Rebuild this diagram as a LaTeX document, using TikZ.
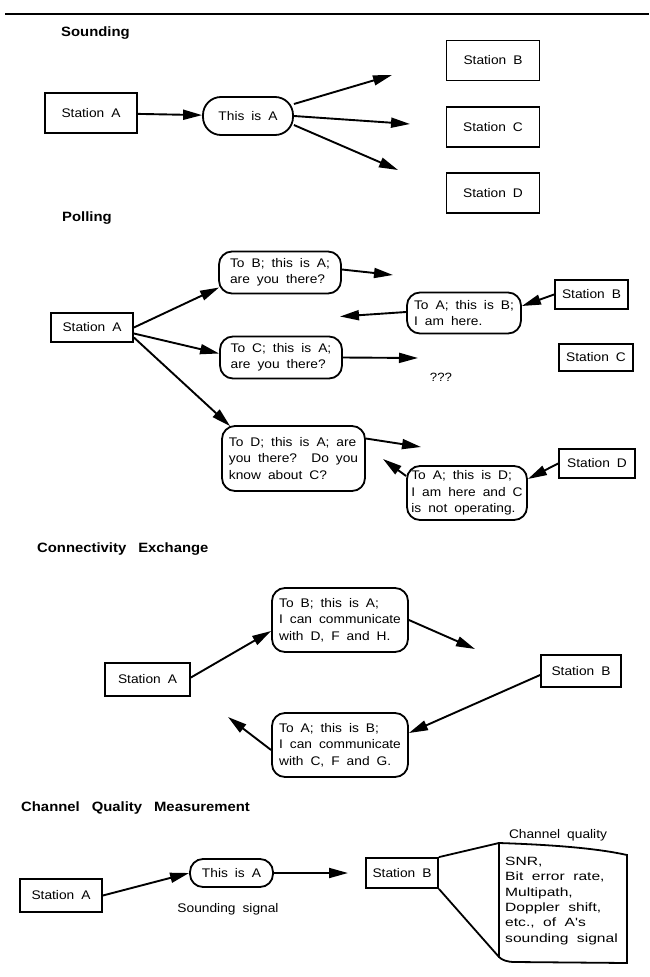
\documentclass[tikz,border=0pt]{standalone}
\usepackage{fontspec}
\setmainfont{Liberation Sans}[FakeStretch=1.1]
\newfontfamily\flagfamily{Liberation Sans}[FakeStretch=1.3]
\usetikzlibrary{arrows.meta}
\newcommand{\msgfont}{\fontsize{12.5}{16.5}\selectfont\spaceskip=7pt plus 1pt}
\newcommand{\hdfont}{\bfseries\fontsize{13.5}{16}\selectfont\spaceskip=12pt plus 2pt}
\newcommand{\flagfont}{\flagfamily\fontsize{12}{15.3}\selectfont\spaceskip=8.5pt plus 1pt}
\tikzset{
	station/.style={draw, line width=1.8pt, inner sep=0pt, font=\msgfont},
	msg/.style={draw, line width=1.8pt, inner sep=0pt, rounded corners=13pt, align=left, font=\msgfont},
	head/.style={anchor=west, inner sep=0pt, font=\hdfont},
	sig/.style={line width=1.9pt, -{Triangle[length=19pt,width=10pt]}},
}

\begin{document}
\begin{tikzpicture}[x=1pt,y=-1pt]
	\useasboundingbox (0,0) rectangle (649,977);
	\draw[line width=2.4pt] (5,14) -- (649,14);

	% Sounding
	\node[head] (h1) at (61,33) {Sounding};
	\node[station, minimum width=92pt, minimum height=40pt] (sa) at (91,113) {Station A};
	\node[msg, rounded corners=18pt, minimum width=90pt, minimum height=38pt] (sm) at (248,116) {This is A};
	\node[station, minimum width=93pt, minimum height=40pt] (sb) at (493,60.5) {Station B};
	\node[station, minimum width=93pt, minimum height=40pt] (sc) at (493,126.7) {Station C};
	\node[station, minimum width=93pt, minimum height=40pt] (sd) at (493,192.7) {Station D};
	\coordinate (tb) at (392,75);
	\coordinate (tc) at (410,124);
	\coordinate (td) at (398,170);
	\draw[sig] (sa) -- (sm);
	\draw[sig] ([yshift=12pt]sm.east) -- (tb);
	\draw[sig] (sm.east) -- (tc);
	\draw[sig] ([yshift=-9pt]sm.east) -- (td);

	% Polling
	\node[head] (h2) at (62,218) {Polling};
	\node[station, minimum width=82pt, minimum height=29pt] (pa) at (92,327.5) {Station A};
	\node[msg, minimum width=122pt, minimum height=42pt] (pmb) at (280,272.5) {To B; this is A;\\are you there?};
	\node[msg, minimum width=114pt, minimum height=41pt] (pmab) at (464,313) {To A; this is B;\\I am here.};
	\node[station, minimum width=73pt, minimum height=29pt] (psb) at (591.5,294.5) {Station B};
	\node[msg, minimum width=122pt, minimum height=42pt] (pmc) at (281,357.5) {To C; this is A;\\are you there?};
	\node[station, minimum width=74pt, minimum height=27pt] (psc) at (596,357.5) {Station C};
	\node[msg, minimum width=143pt, minimum height=65pt] (pmd) at (293.5,458.5) {To D; this is A; are\\you there?\hspace{6pt} Do you\\know about C?};
	\node[msg, minimum width=120pt, minimum height=54pt] (pmad) at (467,493) {To A; this is D;\\I am here and C\\is not operating.};
	\node[station, minimum width=76pt, minimum height=29pt] (psd) at (597,463.5) {Station D};
	\node[font=\fontsize{12}{14}\selectfont] (pq) at (441,377) {???};
	\coordinate (qb) at (393,275);
	\coordinate (qab) at (340,316.5);
	\coordinate (qc) at (418,358);
	\coordinate (qd) at (421,447);
	\coordinate (qad) at (383,459);
	\draw[sig] (pa.east) -- ([xshift=1pt,yshift=-15pt]pmb.west);
	\draw[sig] ([yshift=3pt]pmb.east) -- (qb);
	\draw[sig] (psb.west) -- ([yshift=7pt]pmab.east);
	\draw[sig] ([yshift=1pt]pmab.west) -- (qab);
	\draw[sig] ([yshift=-6pt]pa.east) -- ([yshift=4pt]pmc.west);
	\draw[sig] (pmc.east) -- (qc);
	\draw[sig] ([yshift=-10pt]pa.east) -- ([xshift=9pt,yshift=-1pt]pmd.north west);
	\draw[sig] ([yshift=20pt]pmd.east) -- (qd);
	\draw[sig] (psd.west) -- ([yshift=14pt]pmad.east);
	\draw[sig] ([yshift=17pt]pmad.west) -- (qad);

	% Connectivity exchange
	\node[head] (h3) at (37,549) {Connectivity Exchange};
	\node[msg, minimum width=136pt, minimum height=64pt] (cm1) at (340,620) {To B; this is A;\\I can communicate\\with D, F and H.};
	\node[station, minimum width=85pt, minimum height=33pt] (ca) at (147.5,679.5) {Station A};
	\node[station, minimum width=80pt, minimum height=32pt] (cb) at (581,671) {Station B};
	\node[msg, minimum width=136pt, minimum height=64pt] (cm2) at (340,745) {To A; this is B;\\I can communicate\\with C, F and G.};
	\coordinate (cq1) at (475,649);
	\coordinate (cq2) at (228,717);
	\draw[sig] ([yshift=2pt]ca.east) -- ([yshift=-11pt]cm1.west);
	\draw[sig] (cm1.east) -- (cq1);
	\draw[sig] ([yshift=-4pt]cb.west) -- ([yshift=12pt]cm2.east);
	\draw[sig] ([yshift=-5pt]cm2.west) -- (cq2);

	% Channel quality measurement
	\node[head] (h4) at (21,808) {Channel Quality Measurement};
	\node[station, minimum width=82pt, minimum height=33pt] (qa) at (61,895.5) {Station A};
	\node[msg, rounded corners=13pt, minimum width=83pt, minimum height=28pt] (qm) at (231.5,873) {This is A};
	\node[font=\msgfont] (ql) at (228,909) {Sounding signal};
	\node[station, minimum width=72pt, minimum height=30pt] (qs) at (402,873) {Station B};
	\coordinate (qt) at (348,873);
	\draw[sig] (qa.east) -- (qm.west);
	\draw[sig] (qm.east) -- (qt);
	\coordinate (ftl) at (499,843);
	\coordinate (fbl) at (499,957);
	\draw[line width=1.8pt] (qs.north east) -- (ftl);
	\draw[line width=1.8pt] (qs.south east) -- (fbl);
	\draw[line width=1.8pt] (ftl) .. controls (560,845) and (600,849) .. (627,855)
		-- (627,963) -- (515,962) .. controls (507,962) and (502,960) .. (fbl) -- cycle;
	\node[font=\msgfont] (fl) at (558,835) {Channel quality};
	\node[anchor=north west, inner sep=0pt, align=left, font=\flagfont] (ft) at (505,857)
		{SNR,\\Bit error rate,\\Multipath,\\Doppler shift,\\etc., of A's\\sounding signal};
\end{tikzpicture}
\end{document}
